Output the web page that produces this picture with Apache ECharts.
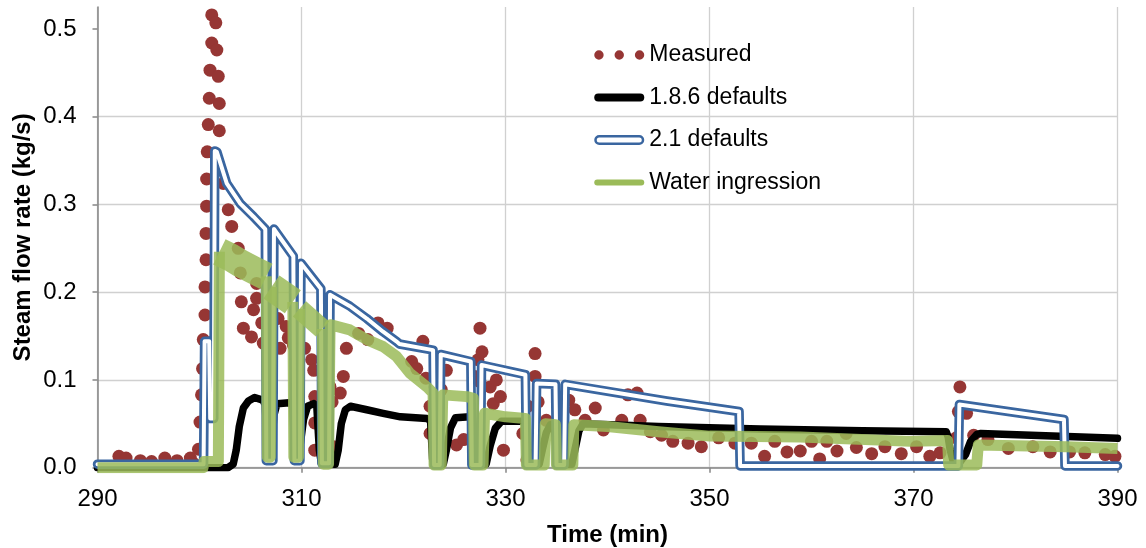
<!DOCTYPE html>
<html><head><meta charset="utf-8">
<script src="https://cdn.jsdelivr.net/npm/echarts@6/dist/echarts.min.js"></script>
<style>html,body{margin:0;padding:0;background:#fff}#c{width:1146px;height:548px}</style>
</head><body><div id="c"></div>
<script>
// ---- data (time in min, steam flow rate in kg/s) ----
const xTicks = [290, 310, 330, 350, 370, 390];
const yTicks = [0.0, 0.1, 0.2, 0.3, 0.4, 0.5];

const measured = [
[292.1,0.013],[292.8,0.011],[294.2,0.008],[295.3,0.007],[296.6,0.011],[297.8,0.008],[299.1,0.011],[299.4,0.005],[299.9,0.021],
[300.05,0.052],[300.2,0.083],[300.3,0.113],[300.37,0.146],[300.54,0.174],[300.54,0.206],[300.64,0.237],[300.64,0.267],[300.7,0.298],[300.7,0.329],[300.76,0.36],[300.86,0.391],[300.96,0.421],[301.03,0.453],[301.2,0.484],[301.2,0.516],
[301.6,0.507],[301.7,0.476],[301.84,0.446],[301.94,0.415],[301.94,0.384],
[302.33,0.324],[302.82,0.294],[303.16,0.275],[303.8,0.25],[304.0,0.222],[304.1,0.189],[304.3,0.159],[305.1,0.149],[305.3,0.18],[305.6,0.193],[305.6,0.21],[306.1,0.165],[306.25,0.142],
[307.7,0.17],[307.9,0.136],[308.5,0.161],[308.7,0.148],[309.2,0.14],[309.7,0.153],[310.3,0.136],[311.0,0.123],[311.2,0.111],[311.3,0.081],[311.3,0.051],[311.3,0.02],
[312.8,0.092],[313.0,0.075],[313.15,0.024],[313.8,0.085],[314.1,0.104],[314.4,0.136],[315.6,0.153],[316.5,0.146],[317.5,0.165],[318.4,0.159],
[320.8,0.121],[321.3,0.113],[321.9,0.144],[322.2,0.102],[322.6,0.07],[322.6,0.039],[323.1,0.092],[323.2,0.077],[323.1,0.024],[323.7,0.089],[324.2,0.111],[325.2,0.026],[325.9,0.032],
[327.0,0.104],[327.3,0.123],[327.5,0.159],[327.5,0.098],[327.7,0.132],[328.5,0.092],[328.8,0.073],[329.1,0.1],[329.5,0.081],[329.8,0.02],
[331.7,0.039],[332.1,0.009],[332.2,0.07],[332.9,0.104],[332.9,0.13],[333.2,0.075],[334.0,0.054],[335.2,0.072],[336.2,0.077],[336.8,0.066],[337.8,0.054],[338.8,0.068],[339.6,0.043],
[341.4,0.054],[342.0,0.083],[342.9,0.085],[343.2,0.054],[344.2,0.041],[345.3,0.037],[346.4,0.03],[347.9,0.028],[349.2,0.024],[350.9,0.034],[352.5,0.028],[354.1,0.028],[355.4,0.013],[356.4,0.03],[357.6,0.018],[358.9,0.019],[360.0,0.03],[360.8,0.01],[361.5,0.03],[362.5,0.019],[363.4,0.039],[364.4,0.023],[365.9,0.016],[367.2,0.024],[368.8,0.016],[370.3,0.024],[371.6,0.013],[372.6,0.017],
[374.2,0.034],[374.4,0.064],[374.55,0.092],[375.2,0.062],[375.9,0.037],[377.3,0.032],[379.3,0.022],[381.7,0.024],[383.4,0.018],[385.3,0.018],[386.8,0.017],[388.8,0.015],[389.75,0.013]
];

const defaults186 = [
[290,0],[302.8,0],[303.3,0.004],[303.6,0.02],[303.9,0.047],[304.3,0.068],[304.8,0.076],[305.4,0.08],[306.2,0.077],
[306.45,0.072],[306.65,0.015],[306.85,0.009],[307.05,0.02],[307.3,0.06],[307.6,0.073],[308.8,0.074],
[309.15,0.072],[309.35,0.015],[309.55,0.01],[309.8,0.02],[310.2,0.055],[310.6,0.07],[311.2,0.073],
[311.5,0.07],[311.75,0.02],[311.95,0.005],[313.3,0.004],[313.6,0.02],[313.9,0.05],[314.3,0.066],[314.8,0.07],[316.4,0.066],[318,0.062],[319.7,0.058],[322.3,0.056],
[322.65,0.054],[322.85,0.01],[323.1,0.003],[323.9,0.004],[324.2,0.02],[324.6,0.045],[325.1,0.057],[326.5,0.058],
[326.7,0.056],[326.9,0.01],[327.15,0.003],[328.1,0.004],[328.5,0.025],[329.0,0.045],[329.6,0.053],[331.8,0.053],
[331.95,0.045],[332.1,0.01],[332.3,0.003],[333.3,0.004],[333.6,0.02],[334.0,0.04],[334.4,0.049],[334.8,0.048],
[334.95,0.02],[335.15,0.004],[336.5,0.004],[336.8,0.02],[337.2,0.042],[337.6,0.05],[345,0.047],[355,0.044],[365,0.042],[373.2,0.041],
[373.4,0.035],[373.6,0.02],[373.9,0.007],[374.6,0.007],[375.1,0.015],[375.6,0.03],[376.2,0.038],[376.6,0.039],[390,0.0335]
];

const defaults21 = [
[290,0.004],[300.4,0.004],[300.5,0.144],[300.95,0.144],[301.05,0.056],[301.4,0.056],[301.5,0.361],[301.7,0.36],[302.67,0.324],[304.0,0.301],[305.3,0.286],
[306.45,0.272],[306.55,0.008],[307.2,0.008],[307.3,0.272],[309.2,0.241],[309.3,0.008],[309.85,0.008],[309.95,0.233],[311.9,0.204],[312.0,0.005],[312.7,0.005],[312.8,0.197],
[314.75,0.184],[316.4,0.17],[318,0.155],[319.3,0.144],[319.6,0.141],[322.9,0.134],[323.0,0.003],[323.55,0.003],[323.65,0.129],[326.6,0.121],[326.7,0.003],[327.55,0.003],[327.65,0.117],
[331.95,0.106],[332.05,0.003],[332.95,0.003],[333.05,0.096],[334.9,0.095],[335.0,0.003],[335.75,0.003],[335.85,0.095],[345.8,0.076],[352.9,0.064],[353.0,0.002],
[374.4,0.002],[374.5,0.072],[384.75,0.055],[384.85,0.002],[390,0.002]
];

const waterIngression = [
[290,0],[300.35,0],[300.45,0.007],[301.85,0.007],[301.95,0.246],[304,'-'],
[306.55,0.218],[306.65,0.012],[306.95,0.012],[307.05,0.206],[308,'-'],
[309.15,0.189],[309.25,0.012],[309.7,0.012],[309.8,0.181],[311,'-'],
[312.05,0.158],[312.15,0.004],[312.65,0.004],[312.8,0.163],[314.75,0.157],[316.4,0.146],[318,0.138],[319.3,0.127],[320.6,0.108],[322.3,0.092],
[322.9,0.085],[323.0,0.003],[323.7,0.003],[323.85,0.083],[326.2,0.081],[326.85,0.079],[326.95,0.003],[327.8,0.003],[327.95,0.062],[330,0.058],
[331.95,0.056],[332.05,0.003],[333.8,0.003],[333.9,0.05],[334.9,0.049],[335.0,0.003],[336.6,0.003],[336.7,0.049],[340,0.047],[345,0.041],[350,0.036],
[358.9,0.035],[369.7,0.030],[373.35,0.031],[373.45,0.003],[376.2,0.003],[376.35,0.026],[385,0.024],[390,0.022]
];
// noisy (oscillating) part of the water-ingression curve, read as band centre
const waterNoiseWide = [[301.95,0.246],[303,0.24],[304,0.233],[305.5,0.224],[306.55,0.218],[306.8,'-'],[307.05,0.206],[309.15,0.189]];
const waterNoiseNarrow = [[309.8,0.181],[312.05,0.158]];

// ---- styles ----
const FONT = 'Liberation Sans, Arial, sans-serif';
const RED = '#963634', BLUE = '#3a66a0', GREEN = '#9bbb59';
const AXIS = '#868686', GRID = '#d0d0d0';

const chart = echarts.init(document.getElementById('c'), null, {renderer: 'canvas'});
const lineBase = {type: 'line', showSymbol: false, symbol: 'none', animation: false, silent: true};

chart.setOption({
  animation: false,
  backgroundColor: '#fff',
  grid: {left: 97.5, right: 28.5, top: 7, bottom: 80.3, containLabel: false, outerBoundsMode: 'none'},
  legend: {
    orient: 'vertical', left: 588, top: 38, itemWidth: 50, itemHeight: 12, itemGap: 18.5,
    selectedMode: false,
    textStyle: {fontSize: 23, color: '#000', fontFamily: FONT, lineHeight: 24},
    data: [
      {name: 'Measured', icon: 'path://M0,0M50,12M0,6A4.7,4.7 0 1 1 9.4,6A4.7,4.7 0 1 1 0,6ZM20.3,6A4.7,4.7 0 1 1 29.7,6A4.7,4.7 0 1 1 20.3,6ZM40.6,6A4.7,4.7 0 1 1 50,6A4.7,4.7 0 1 1 40.6,6Z',
        itemStyle: {color: RED, borderWidth: 0}},
      {name: '1.8.6 defaults', icon: 'path://M0,0M50,12M4,2H46A4,4 0 0 1 46,10H4A4,4 0 0 1 4,2Z',
        itemStyle: {color: '#000', borderWidth: 0}},
      {name: '2.1 defaults', icon: 'path://M0,0M50,12M5,2.25H45A3.75,3.75 0 0 1 45,9.75H5A3.75,3.75 0 0 1 5,2.25Z',
        itemStyle: {color: '#fff', borderColor: BLUE, borderWidth: 2.5}},
      {name: 'Water ingression', icon: 'path://M0,0M50,12M3,3H47A3,3 0 0 1 47,9H3A3,3 0 0 1 3,3Z',
        itemStyle: {color: GREEN, borderWidth: 0}}
    ]
  },
  xAxis: {
    type: 'value', min: xTicks[0], max: xTicks[xTicks.length - 1], interval: 20,
    axisLine: {show: true, onZero: false, lineStyle: {color: AXIS, width: 1.5}},
    axisTick: {show: true, length: 5, lineStyle: {color: AXIS, width: 1.5}},
    axisLabel: {fontSize: 24, color: '#000', fontFamily: FONT, margin: 20},
    splitLine: {show: true, lineStyle: {color: GRID, width: 1.3}},
    name: 'Time (min)', nameLocation: 'middle', nameGap: 56, nameMoveOverlap: false,
    nameTextStyle: {fontSize: 24, fontWeight: 'bold', color: '#000', fontFamily: FONT}
  },
  yAxis: {
    type: 'value', min: 0, max: 0.525, interval: 0.1,
    axisLine: {show: true, lineStyle: {color: AXIS, width: 1.5}},
    axisTick: {show: true, length: 5, customValues: yTicks, lineStyle: {color: AXIS, width: 1.5}},
    axisLabel: {customValues: yTicks, formatter: v => Number(v).toFixed(1), fontSize: 24, color: '#000', fontFamily: FONT, margin: 21, padding: [5, 0, 0, 0]},
    splitLine: {show: true, showMaxLine: false, lineStyle: {color: GRID, width: 1.3}},
    name: 'Steam flow rate (kg/s)', nameLocation: 'middle', nameGap: 62, nameRotate: 90, nameMoveOverlap: false,
    nameTextStyle: {fontSize: 24, fontWeight: 'bold', color: '#000', fontFamily: FONT}
  },
  series: [
    {name: 'Measured', type: 'scatter', data: measured, symbol: 'circle', symbolSize: 13,
     itemStyle: {color: RED, opacity: 1}, animation: false, silent: true},
    Object.assign({}, lineBase, {name: '1.8.6 defaults', data: defaults186, itemStyle: {color: '#000'},
     lineStyle: {color: '#000', width: 7.5, join: 'round', cap: 'round'}}),
    Object.assign({}, lineBase, {name: '2.1 defaults', data: defaults21, itemStyle: {color: BLUE},
     lineStyle: {color: BLUE, width: 9.5, join: 'round', cap: 'round'}}),
    Object.assign({}, lineBase, {name: '2.1 defaults (core)', data: defaults21, itemStyle: {color: '#fff'},
     lineStyle: {color: '#fff', width: 4, join: 'round', cap: 'round'}}),
    Object.assign({}, lineBase, {name: 'Water ingression (noise)', data: waterNoiseWide, itemStyle: {color: GREEN},
     lineStyle: {color: GREEN, width: 28, opacity: 0.85, join: 'round', cap: 'butt'}}),
    Object.assign({}, lineBase, {name: 'Water ingression (noise 2)', data: waterNoiseNarrow, itemStyle: {color: GREEN},
     lineStyle: {color: GREEN, width: 20, opacity: 0.85, join: 'round', cap: 'butt'}}),
    Object.assign({}, lineBase, {name: 'Water ingression', data: waterIngression, itemStyle: {color: GREEN},
     lineStyle: {color: GREEN, width: 11, opacity: 0.85, join: 'round', cap: 'butt'}})
  ]
});
</script>
</body></html>
